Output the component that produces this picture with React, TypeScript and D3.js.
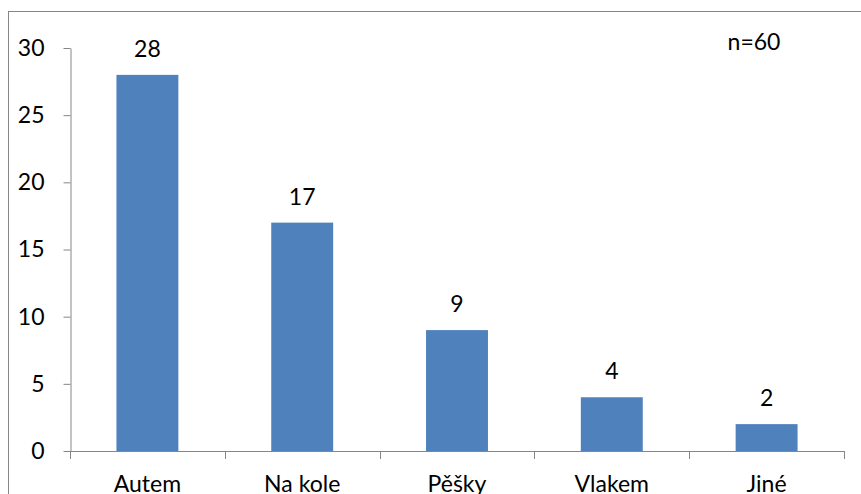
import React, { useRef, useEffect } from 'react';
import * as d3 from 'd3';

const categories = ['Autem', 'Na kole', 'Pěšky', 'Vlakem', 'Jiné'];
const values = [28, 17, 9, 4, 2];
const yTicks = [0, 5, 10, 15, 20, 25, 30];
const note = 'n=60';

const W = 861;
const H = 494;
const font = 'Lato, "Open Sans", sans-serif';

const App = () => {
  const ref = useRef<SVGSVGElement>(null);

  useEffect(() => {
    const svg = d3.select(ref.current).attr('width', W).attr('height', H);
    svg.selectAll('*').remove();

    const left = 70, right = 844, top = 48, bottom = 451;

    // outer chart border (runs off the picture on right / bottom)
    svg.append('rect')
      .attr('x', 8.5).attr('y', 11.5)
      .attr('width', W).attr('height', H)
      .attr('fill', 'white')
      .attr('stroke', '#868686').attr('stroke-width', 1);

    const x = d3.scaleBand<string>()
      .domain(categories)
      .range([left, right])
      .paddingInner(0)
      .paddingOuter(0);

    const y = d3.scaleLinear().domain([0, 30]).range([bottom, top]);

    // y axis
    const yAxis = svg.append('g').attr('transform', `translate(${left + 0.5},0)`)
      .call(d3.axisLeft(y).tickValues(yTicks).tickSize(7).tickPadding(19).tickSizeOuter(0));
    yAxis.select('.domain').attr('stroke', '#868686');
    yAxis.selectAll('line').attr('stroke', '#868686');
    yAxis.selectAll('text')
      .attr('font-family', font).attr('font-size', 23).attr('fill', '#000');

    // bars
    const barW = x.bandwidth() * 0.4;
    svg.selectAll('.bar')
      .data(values)
      .enter().append('rect')
      .attr('x', (d, i) => x(categories[i])! + (x.bandwidth() - barW) / 2)
      .attr('y', d => y(d))
      .attr('width', barW)
      .attr('height', d => bottom - y(d))
      .attr('fill', '#4F81BD');

    // value labels
    svg.selectAll('.val')
      .data(values)
      .enter().append('text')
      .attr('x', (d, i) => x(categories[i])! + x.bandwidth() / 2)
      .attr('y', d => y(d) - 18)
      .attr('text-anchor', 'middle')
      .attr('font-family', font).attr('font-size', 23)
      .text(d => d);

    // x axis line and category boundary ticks
    const xg = svg.append('g');
    xg.append('line')
      .attr('x1', left).attr('x2', right + 0.5)
      .attr('y1', bottom + 0.5).attr('y2', bottom + 0.5)
      .attr('stroke', '#868686');
    const bounds = categories.map(c => x(c)!).concat([right]);
    xg.selectAll('.xt')
      .data(bounds)
      .enter().append('line')
      .attr('x1', d => Math.round(d) + 0.5).attr('x2', d => Math.round(d) + 0.5)
      .attr('y1', bottom).attr('y2', bottom + 8)
      .attr('stroke', '#868686');
    xg.selectAll('.xl')
      .data(categories)
      .enter().append('text')
      .attr('x', d => x(d)! + x.bandwidth() / 2)
      .attr('y', bottom + 41)
      .attr('text-anchor', 'middle')
      .attr('font-family', font).attr('font-size', 23)
      .text(d => d);

    svg.append('text')
      .attr('x', 754).attr('y', 50)
      .attr('text-anchor', 'middle')
      .attr('font-family', font).attr('font-size', 23)
      .text(note);
  }, []);

  return <svg ref={ref} style={{ position: 'absolute', left: 0, top: 0, display: 'block' }}></svg>;
};

export default App;
